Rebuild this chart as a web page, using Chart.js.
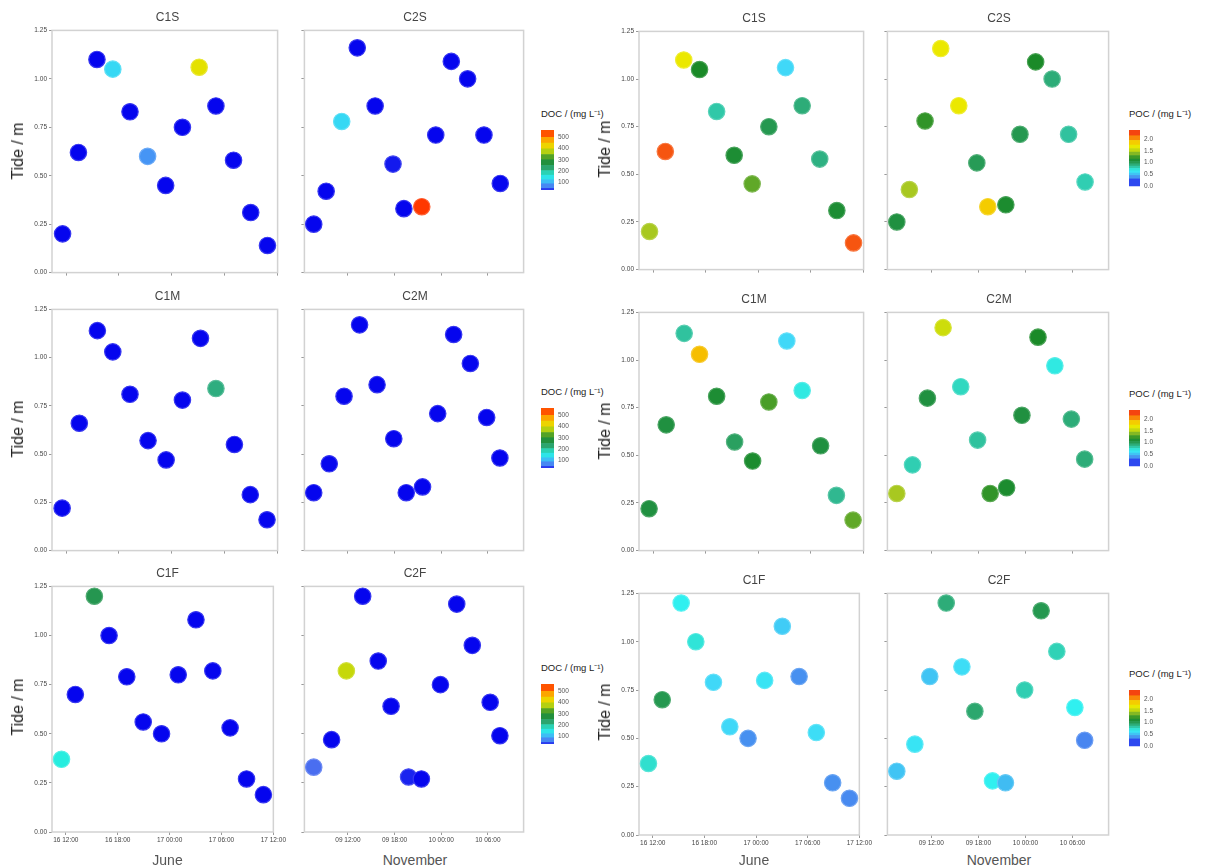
<!DOCTYPE html>
<html>
<head>
<meta charset="utf-8">
<script src="https://cdn.jsdelivr.net/npm/chart.js@4.4.0/dist/chart.umd.min.js"></script>
<style>
  body { margin: 0; background: #fff; width: 1205px; height: 866px; position: relative; overflow: hidden; font-family: "Liberation Sans", Arial, sans-serif; }
  canvas, .t { position: absolute; }
  .t { transform: translate(-50%, -50%); white-space: nowrap; }
  .pt { font-size: 12px; color: #444; }
  .ax { font-size: 16px; color: #222; }
  .mo { font-size: 14px; color: #555; }
  .cb { font-size: 9.5px; color: #222; transform: translate(0, -50%); }
</style>
</head>
<body>
<script>
// sampling times, hours after 00:00 of 16 June / 09 November
const junS = [11.6, 13.4, 15.5, 17.3, 19.25, 21.25, 23.3, 25.2, 27.1, 29.0, 31.0, 32.95, 34.85];
const junM = [11.55, 13.5, 15.55, 17.3, 19.25, 21.3, 23.35, 25.2, 27.25, 29.0, 31.1, 32.9, 34.8];
const junF = [11.5, 13.1, 15.3, 17.0, 19.05, 20.95, 23.07, 25.0, 27.05, 29.0, 31.0, 32.9, 34.85];
const novS = [7.6, 9.2, 11.2, 13.2, 15.5, 17.8, 19.2, 21.5, 23.3, 25.3, 27.4, 29.5, 31.6];
const novM = [7.6, 9.6, 11.5, 13.5, 15.75, 17.9, 19.5, 21.6, 23.55, 25.6, 27.75, 29.85, 31.55];
const novF = [7.6, 9.9, 11.8, 13.9, 15.9, 17.55, 19.8, 21.45, 23.9, 26.0, 28.0, 30.3, 31.55];

// tide (m)
const tideC1S = [0.20, 0.62, 1.10, 1.05, 0.83, 0.60, 0.45, 0.75, 1.06, 0.86, 0.58, 0.31, 0.14];
const tideC2S = [0.25, 0.42, 0.78, 1.16, 0.86, 0.56, 0.33, 0.34, 0.71, 1.09, 1.00, 0.71, 0.46];
const tideC1M = [0.22, 0.66, 1.14, 1.03, 0.81, 0.57, 0.47, 0.78, 1.10, 0.84, 0.55, 0.29, 0.16];
const tideC2M = [0.30, 0.45, 0.80, 1.17, 0.86, 0.58, 0.30, 0.33, 0.71, 1.12, 0.97, 0.69, 0.48];
const tideC1F = [0.37, 0.70, 1.20, 1.00, 0.79, 0.56, 0.50, 0.80, 1.08, 0.82, 0.53, 0.27, 0.19];
const tideC2F = [0.33, 0.47, 0.82, 1.20, 0.87, 0.64, 0.28, 0.27, 0.75, 1.16, 0.95, 0.66, 0.49];

// DOC (mg/L)
const docC1S = [12, 12, 12, 125, 12, 80, 12, 12, 400, 12, 12, 12, 12];
const docC2S = [12, 12, 125, 12, 12, 25, 12, 545, 12, 12, 12, 12, 12];
const docC1M = [12, 12, 12, 12, 12, 12, 12, 12, 12, 215, 12, 12, 12];
const docC2M = [12, 15, 12, 12, 12, 12, 12, 12, 12, 12, 12, 12, 12];
const docC1F = [160, 12, 250, 12, 12, 12, 12, 12, 12, 12, 12, 12, 12];
const docC2F = [50, 12, 380, 12, 12, 12, 28, 14, 12, 12, 12, 12, 12];

// POC (mg/L)
const pocC1S = [1.45, 2.2, 1.7, 1.15, 0.8, 1.1, 1.3, 1.0, 0.55, 0.9, 0.88, 1.1, 2.2];
const pocC2S = [1.05, 1.45, 1.2, 1.7, 1.7, 0.98, 1.85, 1.12, 1.0, 1.15, 0.9, 0.82, 0.78];
const pocC1M = [1.05, 1.05, 0.82, 1.9, 1.1, 0.95, 1.12, 1.25, 0.55, 0.68, 1.05, 0.85, 1.3];
const pocC2M = [1.45, 0.78, 1.05, 1.55, 0.75, 0.82, 1.2, 1.12, 1.05, 1.15, 0.68, 0.9, 0.9];
const pocC1F = [0.72, 1.0, 0.65, 0.7, 0.55, 0.55, 0.35, 0.6, 0.52, 0.35, 0.57, 0.35, 0.33];
const pocC2F = [0.5, 0.6, 0.5, 0.9, 0.57, 0.92, 0.65, 0.48, 0.78, 1.0, 0.77, 0.65, 0.32];

const junTickVals = [12, 18, 24, 30, 36];
const junTickLabels = ['16 12:00', '16 18:00', '17 00:00', '17 06:00', '17 12:00'];
const novTickVals = [12, 18, 24, 30];
const novTickLabels = ['09 12:00', '09 18:00', '10 00:00', '10 06:00'];
const tideTicks = [0, 0.25, 0.5, 0.75, 1, 1.25];
const docBarTicks = [100, 200, 300, 400, 500];
const pocBarTicks = [0, 0.5, 1, 1.5, 2];

// colour scales
const docStops = [0, 20, 50, 90, 125, 165, 205, 250, 300, 345, 395, 445, 495, 560];
const docColors = ['#0000ee', '#0808ee', '#4a6ef0', '#44a2f6', '#36d8f4', '#24f0dc', '#30b48c', '#259650',
  '#1f8a2a', '#86bc22', '#e2e400', '#f8c400', '#ff8800', '#ff2000'];
const pocStops = [0, 0.3, 0.45, 0.55, 0.65, 0.75, 0.85, 0.95, 1.05, 1.15, 1.3, 1.45, 1.6, 1.75, 1.95, 2.15, 2.4];
const pocColors = ['#1010f0', '#4a80f0', '#40b0f0', '#40d8f8', '#30f0f0', '#30d8c0', '#30b890', '#2aa060',
  '#209040', '#1a8a28', '#60a828', '#a8c820', '#e0e800', '#f0e800', '#f8b000', '#f86010', '#f02810'];

function hexRgb(h) { return [1, 3, 5].map(i => parseInt(h.substr(i, 2), 16)); }
function makeMap(stops, colors) {
  const rgb = colors.map(hexRgb);
  return v => {
    let i = 0;
    while (i < stops.length - 2 && v > stops[i + 1]) i++;
    const t = Math.max(0, Math.min(1, (v - stops[i]) / (stops[i + 1] - stops[i])));
    return rgb[i].map((a, k) => Math.round(a + (rgb[i + 1][k] - a) * t));
  };
}
const rgbStr = c => `rgb(${c.join(',')})`;
const lighten = (c, f) => rgbStr(c.map(a => Math.round(a + (255 - a) * f)));
const docMap = makeMap(docStops, docColors);
const pocMap = makeMap(pocStops, pocColors);

const tickFont = { family: 'Liberation Sans', size: 6.5 };

const frame = {
  id: 'frame',
  beforeDatasetsDraw(chart) {
    const { ctx, chartArea: a } = chart;
    ctx.save();
    ctx.strokeStyle = '#d2d2d2';
    ctx.lineWidth = 1.5;
    ctx.strokeRect(a.left, a.top, a.width, a.height);
    ctx.restore();
  }
};

function addCanvas(x, y, w, h) {
  const c = document.createElement('canvas');
  c.width = Math.round(w); c.height = Math.round(h);
  c.style.left = Math.round(x) + 'px';
  c.style.top = Math.round(y) + 'px';
  document.body.appendChild(c);
  return c;
}

function text(cls, str, x, y, rot) {
  const d = document.createElement('div');
  d.className = 't ' + cls;
  d.textContent = str;
  d.style.left = x + 'px';
  d.style.top = y + 'px';
  if (rot) d.style.transform = 'translate(-50%, -50%) rotate(-90deg)';
  document.body.appendChild(d);
}

function panel(box, xs, tides, vals, cmap, xr, tickVals, tickLabels, showY, showX) {
  const [L, T, R, B] = box;
  const mL = showY ? 32 : 6, mB = showX ? 16 : 6, pad = 4;
  const cv = addCanvas(L - mL, T - pad, R - L + mL + pad, B - T + pad + mB);
  const cols = vals.map(cmap);
  new Chart(cv, {
    type: 'scatter',
    data: {
      datasets: [{
        data: xs.map((x, i) => ({ x: x, y: tides[i] })),
        backgroundColor: cols.map(rgbStr),
        borderColor: cols.map(c => lighten(c, 0.2)),
        borderWidth: 1.2,
        pointRadius: 8.2,
        clip: false
      }]
    },
    options: {
      responsive: false, animation: false, events: [],
      layout: { padding: { top: pad, right: pad, left: 0, bottom: 0 } },
      plugins: { legend: { display: false }, tooltip: { enabled: false } },
      scales: {
        x: {
          type: 'linear', min: xr[0], max: xr[1],
          afterBuildTicks: a => { a.ticks = tickVals.map(v => ({ value: v })); },
          afterFit: a => { a.height = mB; },
          ticks: { display: showX, autoSkip: false, maxRotation: 0, padding: 1, font: tickFont, color: '#444',
                   callback: (v, i) => tickLabels[i] },
          grid: { drawOnChartArea: false, tickLength: 3, color: '#999' },
          border: { display: false }
        },
        y: {
          min: 0, max: 1.25,
          afterBuildTicks: a => { a.ticks = tideTicks.map(v => ({ value: v })); },
          afterFit: a => { a.width = mL; },
          ticks: { display: showY, padding: 2, font: tickFont, color: '#444', callback: v => v.toFixed(2) },
          grid: { drawOnChartArea: false, tickLength: 3, color: '#999' },
          border: { display: false }
        }
      }
    },
    plugins: [frame]
  });
}

function colorbar(x, top, w, h, stops, cmap, range, ticks, fmt) {
  const axisW = 24;
  const cv = addCanvas(x, top, w + axisW, h);
  const ds = [];
  for (let i = 0; i < stops.length - 1; i++) {
    const lo = stops[i], hi = stops[i + 1];
    ds.push({ data: [[lo, hi]], backgroundColor: rgbStr(cmap((lo + hi) / 2)), grouped: false,
              barPercentage: 1, categoryPercentage: 1, borderWidth: 0 });
  }
  new Chart(cv, {
    type: 'bar',
    data: { labels: [''], datasets: ds },
    options: {
      responsive: false, animation: false, events: [],
      layout: { padding: 0 },
      plugins: { legend: { display: false }, tooltip: { enabled: false } },
      scales: {
        x: { display: false },
        y: {
          position: 'right', min: range[0], max: range[1],
          afterBuildTicks: a => { a.ticks = ticks.map(v => ({ value: v })); },
          afterFit: a => { a.width = axisW; },
          ticks: { padding: 4, font: tickFont, color: '#555', callback: fmt },
          grid: { display: false, drawTicks: false },
          border: { display: false }
        }
      }
    }
  });
}

const times = [[junS, novS], [junM, novM], [junF, novF]];
const tides = [[tideC1S, tideC2S], [tideC1M, tideC2M], [tideC1F, tideC2F]];
const names = [['C1S', 'C2S'], ['C1M', 'C2M'], ['C1F', 'C2F']];
const ranges = [[10.4, 36], [6.4, 34.6]];
const tickSets = [[junTickVals, junTickLabels], [novTickVals, novTickLabels]];
const months = ['June', 'November'];

const groups = [
  { cols: [[52, 283], [301, 529]], rows: [[25, 276], [304, 554], [581, 832]], tideX: 18,
    cbX: 541, cbW: 13, cbY: [112.7, 391, 667.3], cbH: 75.5,
    vals: [[docC1S, docC2S], [docC1M, docC2M], [docC1F, docC2F]], map: docMap, stops: docStops,
    range: [35, 560], cbTicks: docBarTicks, fmt: v => String(v), title: 'DOC / (mg L⁻¹)' },
  { cols: [[639, 869], [884, 1114]], rows: [[25.7, 272.7], [307.3, 554], [588.3, 835.7]], tideX: 605,
    cbX: 1129, cbW: 11, cbY: [112.7, 392.7, 673.3], cbH: 73,
    vals: [[pocC1S, pocC2S], [pocC1M, pocC2M], [pocC1F, pocC2F]], map: pocMap, stops: pocStops,
    range: [-0.05, 2.4], cbTicks: pocBarTicks, fmt: v => v.toFixed(1), title: 'POC / (mg L⁻¹)' }
];

groups.forEach(g => {
  g.rows.forEach((row, r) => {
    g.cols.forEach((col, c) => {
      const box = [col[0], row[0], col[1], row[1]];
      panel(box, times[r][c], tides[r][c], g.vals[r][c], g.map, ranges[c],
            tickSets[c][0], tickSets[c][1], c === 0, r === 2);
      text('pt', names[r][c], (col[0] + col[1]) / 2, row[0] - 8);
      if (r === 2) text('mo', months[c], (col[0] + col[1]) / 2, 860);
    });
    text('ax', 'Tide / m', g.tideX, (row[0] + row[1]) / 2, true);
    colorbar(g.cbX, g.cbY[r] + 9, g.cbW, g.cbH, g.stops, g.map, g.range, g.cbTicks, g.fmt);
    text('cb', g.title, g.cbX, g.cbY[r]);
  });
});
</script>
</body>
</html>
